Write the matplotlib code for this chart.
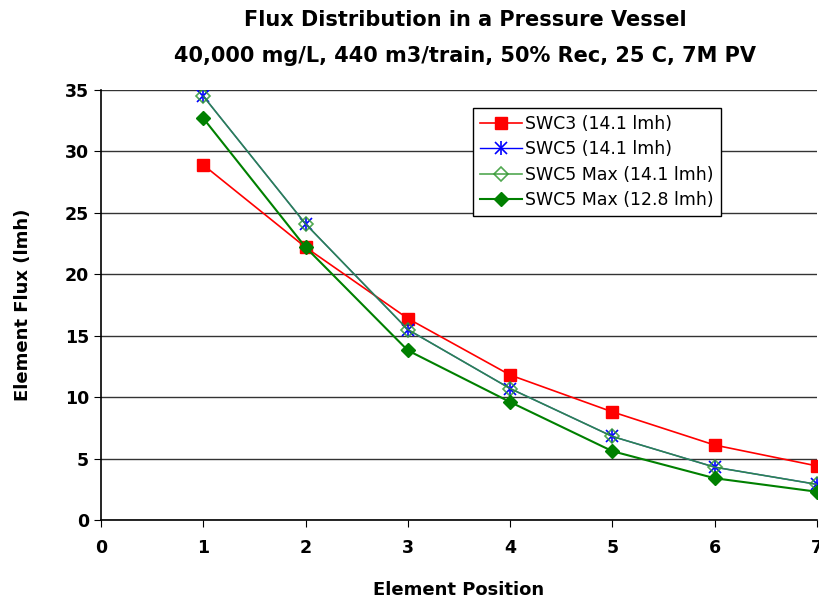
import matplotlib
matplotlib.use("Agg")
import matplotlib.pyplot as plt

plt.rcParams['font.family'] = ['DejaVu Sans']

positions = [1, 2, 3, 4, 5, 6, 7]
swc3 = [28.9, 22.2, 16.4, 11.8, 8.8, 6.1, 4.4]
swc5 = [34.5, 24.1, 15.5, 10.7, 6.8, 4.3, 2.9]
swc5_max_141 = [34.5, 24.1, 15.5, 10.7, 6.8, 4.3, 2.9]
swc5_max_128 = [32.7, 22.2, 13.8, 9.6, 5.6, 3.4, 2.3]

fig = plt.figure(figsize=(8.19, 6.01), dpi=100)
ax = fig.add_axes([101 / 819, 81 / 601, 716 / 819, 430 / 601])

h1, = ax.plot(positions, swc3, color='#ff0000', marker='s', markersize=9, linewidth=1.2)
h2, = ax.plot(positions, swc5, color='#0000ff', marker='x', markersize=8, markeredgewidth=1.2,
              linewidth=1.0)
h2b, = ax.plot(positions, swc5, color='#0000ff', marker='|', markersize=10, markeredgewidth=1.2,
               linewidth=0)
h3, = ax.plot(positions, swc5_max_141, color='#339933', marker='D', markersize=7,
              markerfacecolor='none', markeredgewidth=1.2, linewidth=1.2, alpha=0.85)
h4, = ax.plot(positions, swc5_max_128, color='#008000', marker='D', markersize=7,
              linewidth=1.5)

ax.set_xlim(0, 7)
ax.set_ylim(0, 35)
ax.set_xticks(range(0, 8))
ax.set_yticks(range(0, 36, 5))
ax.yaxis.grid(True, color='#333333', linewidth=1.0)
ax.set_axisbelow(True)
for side in ['top', 'right']:
    ax.spines[side].set_visible(False)
for side in ['left', 'bottom']:
    ax.spines[side].set_linewidth(1.2)
ax.tick_params(direction='out', length=5, labelsize=12.5)
ax.tick_params(axis='x', pad=9)
for lbl in ax.get_xticklabels() + ax.get_yticklabels():
    lbl.set_fontweight('bold')

ax.set_xlabel('Element Position', fontsize=13, fontweight='bold', labelpad=17)
ax.set_ylabel('Element Flux (lmh)', fontsize=13, fontweight='bold', labelpad=24)
fig.suptitle('Flux Distribution in a Pressure Vessel\n40,000 mg/L, 440 m3/train, 50% Rec, 25 C, 7M PV',
             x=0.568, y=0.983, fontsize=15, fontweight='bold', linespacing=2.0)

leg = ax.legend([h1, (h2, h2b), h3, h4],
                ['SWC3 (14.1 lmh)', 'SWC5 (14.1 lmh)', 'SWC5 Max (14.1 lmh)', 'SWC5 Max (12.8 lmh)'],
                loc='upper left', bbox_to_anchor=(372 / 716, 0.958),
                fontsize=12.5, frameon=True, fancybox=False, edgecolor='black',
                framealpha=1, borderpad=0.4, handlelength=2.4, handletextpad=0.2,
                labelspacing=0.42, borderaxespad=0)
leg.get_frame().set_linewidth(1.0)

fig.savefig('out.png', dpi=100)
